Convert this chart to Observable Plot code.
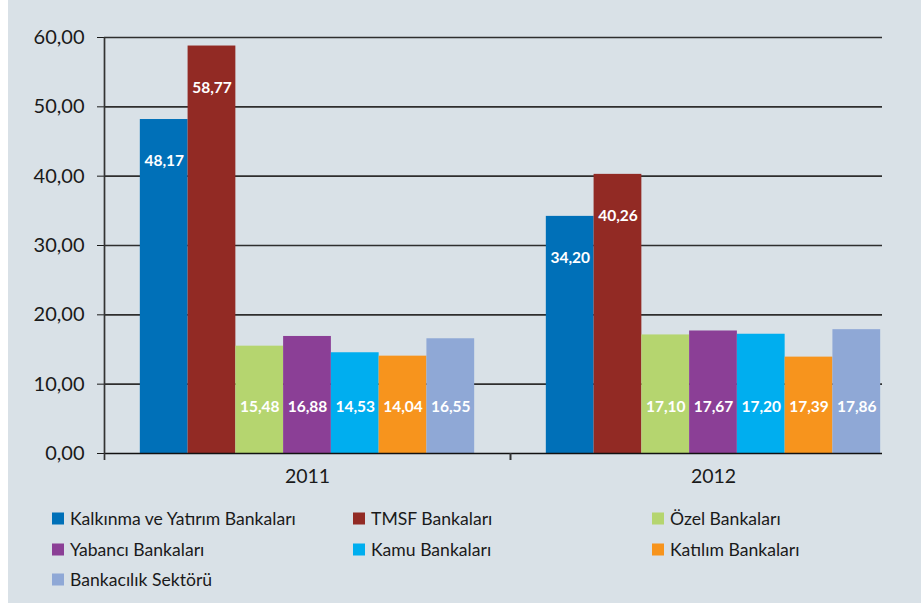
<!DOCTYPE html>
<html>
<head>
<meta charset="utf-8">
<script src="https://cdn.jsdelivr.net/npm/d3@7"></script>
<script src="https://cdn.jsdelivr.net/npm/@observablehq/plot@0.6"></script>
<style>
  html, body { margin: 0; padding: 0; background: #ffffff; }
  #wrap { position: relative; margin-left: 8px; width: 913px; height: 603px; background: #d9e1e7; font-family: Lato, "Open Sans", sans-serif; }
  #legend { position: absolute; left: 0; top: 0; width: 100%; height: 100%; pointer-events: none; }
  .item { position: absolute; display: flex; align-items: center; font-size: 17.6px; color: #1a1a1a; white-space: nowrap; transform: translateY(-50%); }
  .sw { width: 12px; height: 12px; margin-right: 6px; flex: none; }
</style>
</head>
<body>
<div id="wrap"><div id="chart"></div><div id="legend"></div></div>
<script>
// ---- data ----
const years = ["2011", "2012"];
const series = [
  "Kalkınma ve Yatırım Bankaları",
  "TMSF Bankaları",
  "Özel Bankaları",
  "Yabancı Bankaları",
  "Kamu Bankaları",
  "Katılım Bankaları",
  "Bankacılık Sektörü"
];
// bar heights as drawn in the picture
const values2011 = [48.17, 58.77, 15.48, 16.88, 14.53, 14.04, 16.55];
const values2012 = [34.20, 40.26, 17.10, 17.67, 17.20, 13.90, 17.86];
// value labels as printed on the bars
const labels2011 = ["48,17", "58,77", "15,48", "16,88", "14,53", "14,04", "16,55"];
const labels2012 = ["34,20", "40,26", "17,10", "17,67", "17,20", "17,39", "17,86"];
const colors = ["#0070b8", "#922a24", "#b5d56f", "#8b3f96", "#00aeef", "#f7941d", "#8fa8d6"];
const yTicks = [0, 10, 20, 30, 40, 50, 60];

// ---- layout in band units (derived) ----
const outer = 0.75;                       // padding at each side of a group, in bar widths
const slot = series.length + 2 * outer;   // width of one year slot, in bar widths
const valuesByYear = [values2011, values2012];
const labelsByYear = [labels2011, labels2012];
const rows = [];
years.forEach((yr, yi) => {
  series.forEach((s, si) => {
    const x1 = yi * slot + outer + si;
    rows.push({year: yr, series: s, value: valuesByYear[yi][si], label: labelsByYear[yi][si], x1, x2: x1 + 1});
  });
});
const yearRows = years.map((yr, yi) => ({year: yr, xc: yi * slot + slot / 2}));
const bounds = years.slice(1).map((yr, yi) => ({x: (yi + 1) * slot, y: 0}));
const fmt = v => v.toFixed(2).replace(".", ",");

const chart = Plot.plot({
  width: 913,
  height: 490,
  marginLeft: 96,
  marginRight: 39,
  marginTop: 37,
  marginBottom: 37,
  style: {background: "transparent", fontFamily: "Lato, 'Open Sans', sans-serif", fontSize: "20px", color: "#1a1a1a"},
  x: {domain: [0, years.length * slot], range: [96, 908], axis: null},
  y: {domain: [0, 60], ticks: yTicks, tickSize: 7, tickPadding: 13, tickFormat: fmt, label: null},
  color: {domain: series, range: colors},
  marks: [
    Plot.ruleY(yTicks.filter(d => d > 0), {stroke: "#2e2e2e", strokeWidth: 1.7}),
    Plot.rectY(rows, {x1: "x1", x2: "x2", y: "value", fill: "series"}),
    Plot.ruleY([0], {stroke: "#111", strokeWidth: 1.7}),
    Plot.ruleX([0], {stroke: "#333", strokeWidth: 1.7, insetBottom: -7}),
    Plot.ruleX(bounds, {x: "x", y1: "y", y2: "y", stroke: "#333", strokeWidth: 2, insetBottom: -7}),
    Plot.text(rows, {
      x: d => (d.x1 + d.x2) / 2,
      y: d => d.value >= 25 ? d.value - 6 : 6.7,
      text: "label",
      fill: "white", fontWeight: "bold", fontSize: 15.5
    }),
    Plot.text(yearRows, {x: "xc", text: "year", frameAnchor: "bottom", dy: 29, fontSize: 19.5, fill: "#1a1a1a"})
  ]
});
document.getElementById("chart").appendChild(chart);

// ---- legend (HTML, below the chart area) ----
const colLeft = [44, 345, 644];
const rowTop = [518, 549, 579];
const legend = document.getElementById("legend");
series.forEach((s, i) => {
  const it = document.createElement("div");
  it.className = "item";
  it.style.left = colLeft[i % 3] + "px";
  it.style.top = rowTop[Math.floor(i / 3)] + "px";
  const sw = document.createElement("span");
  sw.className = "sw";
  sw.style.background = colors[i];
  it.appendChild(sw);
  it.appendChild(document.createTextNode(s));
  legend.appendChild(it);
});
</script>
</body>
</html>
